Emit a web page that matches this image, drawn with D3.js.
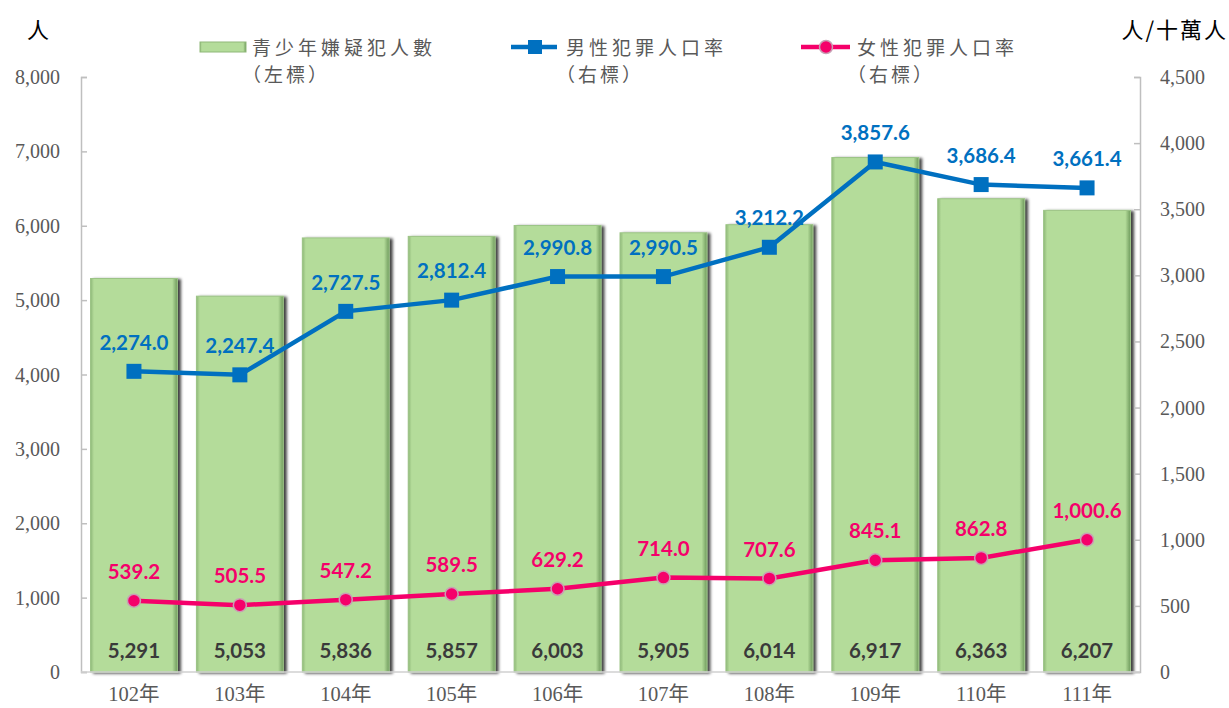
<!DOCTYPE html>
<html>
<head>
<meta charset="utf-8">
<script src="https://cdn.jsdelivr.net/npm/d3@7"></script>
<style>
  body { margin: 0; background: #fff; }
  svg { display: block; }
</style>
</head>
<body>
<div id="canvas"></div>
<script>
// data
let years = ["102年", "103年", "104年", "105年", "106年", "107年", "108年", "109年", "110年", "111年"];
let suspects = [5291, 5053, 5836, 5857, 6003, 5905, 6014, 6917, 6363, 6207];
let maleRate = [2274.0, 2247.4, 2727.5, 2812.4, 2990.8, 2990.5, 3212.2, 3857.6, 3686.4, 3661.4];
let femaleRate = [539.2, 505.5, 547.2, 589.5, 629.2, 714.0, 707.6, 845.1, 862.8, 1000.6];
let leftTicks = [0, 1000, 2000, 3000, 4000, 5000, 6000, 7000, 8000];
let rightTicks = [0, 500, 1000, 1500, 2000, 2500, 3000, 3500, 4000, 4500];

let width = 1229;
let height = 708;
let plotLeft = 81, plotRight = 1140, plotTop = 77, plotBottom = 672;

const blue = "#0070c0";
const pink = "#f5006a";
const barFill = "#b4dc9a";
const axisGray = "#595959";
const serif = "'Liberation Serif', 'Noto Sans CJK TC', serif";
const cjk = "'Noto Sans CJK TC', sans-serif";
const labelFont = "Lato, 'Open Sans', sans-serif";

let svg = d3.select("#canvas").append("svg")
    .attr("width", width)
    .attr("height", height);

let defs = svg.append("defs");
let shadow = defs.append("filter").attr("id", "shadow")
    .attr("x", "-10%").attr("y", "-10%").attr("width", "130%").attr("height", "130%");
shadow.append("feDropShadow")
    .attr("dx", 3).attr("dy", 1).attr("stdDeviation", 1.5)
    .attr("flood-color", "#000").attr("flood-opacity", 0.75);

let barGrad = defs.append("linearGradient").attr("id", "barGrad")
    .attr("x1", 0).attr("x2", 1).attr("y1", 0).attr("y2", 0);
barGrad.append("stop").attr("offset", "0%").attr("stop-color", "#8fb878");
barGrad.append("stop").attr("offset", "4%").attr("stop-color", barFill);
barGrad.append("stop").attr("offset", "94%").attr("stop-color", barFill);
barGrad.append("stop").attr("offset", "100%").attr("stop-color", "#6f9a5c");

const x = d3.scaleBand()
    .domain(years)
    .range([plotLeft, plotRight])
    .paddingInner(0.18)
    .paddingOuter(0.09);

const yLeft = d3.scaleLinear().domain([0, 8000]).range([plotBottom, plotTop]);
const yRight = d3.scaleLinear().domain([0, 4500]).range([plotBottom, plotTop]);

// bars
svg.append("g").selectAll("rect")
    .data(suspects)
    .join("rect")
    .attr("x", (d, i) => x(years[i]))
    .attr("y", d => yLeft(d))
    .attr("width", x.bandwidth())
    .attr("height", d => yLeft(0) - yLeft(d))
    .attr("fill", "url(#barGrad)")
    .attr("stroke", "#9cc486")
    .attr("stroke-width", 1)
    .attr("filter", "url(#shadow)");

// axes
let axisL = svg.append("g")
    .attr("transform", `translate(${plotLeft},0)`)
    .call(d3.axisRight(yLeft).tickValues(leftTicks).tickSize(6).tickFormat(""));
let axisR = svg.append("g")
    .attr("transform", `translate(${plotRight},0)`)
    .call(d3.axisLeft(yRight).tickValues(rightTicks).tickSize(6).tickFormat(""));
[axisL, axisR].forEach(a => {
    a.select(".domain").attr("stroke", "#bfbfbf").attr("stroke-width", 1.5);
    a.selectAll(".tick line").attr("stroke", "#bfbfbf").attr("stroke-width", 1.5);
});
svg.append("line")
    .attr("x1", plotLeft).attr("x2", plotRight)
    .attr("y1", plotBottom).attr("y2", plotBottom)
    .attr("stroke", "#d0d0d0").attr("stroke-width", 1.5);

svg.append("g").selectAll("text")
    .data(leftTicks)
    .join("text")
    .attr("x", 60)
    .attr("y", d => yLeft(d))
    .attr("dy", "0.35em")
    .attr("text-anchor", "end")
    .attr("font-family", serif)
    .attr("font-size", 20)
    .attr("fill", axisGray)
    .text(d => d3.format(",")(d));

svg.append("g").selectAll("text")
    .data(rightTicks)
    .join("text")
    .attr("x", 1160)
    .attr("y", d => yRight(d))
    .attr("dy", "0.35em")
    .attr("text-anchor", "start")
    .attr("font-family", serif)
    .attr("font-size", 20)
    .attr("fill", axisGray)
    .text(d => d3.format(",")(d));

svg.append("g").selectAll("text")
    .data(years)
    .join("text")
    .attr("x", d => x(d) + x.bandwidth() / 2)
    .attr("y", 701)
    .attr("text-anchor", "middle")
    .attr("font-family", serif)
    .attr("font-size", 20.5)
    .attr("fill", axisGray)
    .text(d => d);

// unit labels
svg.append("text").attr("x", 38).attr("y", 38).attr("text-anchor", "middle")
    .attr("font-family", cjk).attr("font-size", 22).attr("fill", "#000").text("人");
svg.append("text").attr("x", 1228).attr("y", 38).attr("text-anchor", "end")
    .attr("font-family", cjk).attr("font-size", 22).attr("letter-spacing", 2)
    .attr("fill", "#000").text("人/十萬人");

// lines
const cx = i => x(years[i]) + x.bandwidth() / 2;
let line = d3.line().x((d, i) => cx(i));

svg.append("path")
    .datum(maleRate)
    .attr("d", line.y(d => yRight(d)))
    .attr("fill", "none")
    .attr("stroke", blue)
    .attr("stroke-width", 4.5);

svg.append("path")
    .datum(femaleRate)
    .attr("d", line.y(d => yRight(d)))
    .attr("fill", "none")
    .attr("stroke", pink)
    .attr("stroke-width", 4.5);

svg.append("g").selectAll("rect")
    .data(maleRate)
    .join("rect")
    .attr("x", (d, i) => cx(i) - 7.5)
    .attr("y", d => yRight(d) - 7.5)
    .attr("width", 15)
    .attr("height", 15)
    .attr("fill", blue);

svg.append("g").selectAll("circle")
    .data(femaleRate)
    .join("circle")
    .attr("cx", (d, i) => cx(i))
    .attr("cy", d => yRight(d))
    .attr("r", 6.5)
    .attr("fill", pink)
    .attr("stroke", "#c8a0b4")
    .attr("stroke-width", 1.5);

// data labels
const fmt1 = d3.format(",.1f");
svg.append("g").selectAll("text")
    .data(maleRate)
    .join("text")
    .attr("x", (d, i) => cx(i))
    .attr("y", d => yRight(d) - 29)
    .attr("dy", "0.35em")
    .attr("text-anchor", "middle")
    .attr("font-family", labelFont)
    .attr("font-weight", "bold")
    .attr("font-size", 20.5)
    .attr("fill", blue)
    .text(d => fmt1(d));

svg.append("g").selectAll("text")
    .data(femaleRate)
    .join("text")
    .attr("x", (d, i) => cx(i))
    .attr("y", d => yRight(d) - 29)
    .attr("dy", "0.35em")
    .attr("text-anchor", "middle")
    .attr("font-family", labelFont)
    .attr("font-weight", "bold")
    .attr("font-size", 20.5)
    .attr("fill", pink)
    .text(d => fmt1(d));

svg.append("g").selectAll("text")
    .data(suspects)
    .join("text")
    .attr("x", (d, i) => cx(i))
    .attr("y", 651)
    .attr("dy", "0.35em")
    .attr("text-anchor", "middle")
    .attr("font-family", labelFont)
    .attr("font-weight", "bold")
    .attr("font-size", 20.5)
    .attr("fill", "#3a3a3a")
    .text(d => d3.format(",")(d));

// legend
let legend = svg.append("g");
legend.append("rect")
    .attr("x", 200).attr("y", 42).attr("width", 46).attr("height", 10)
    .attr("fill", "url(#barGrad)").attr("stroke", "#8fb878");

legend.append("line").attr("x1", 511).attr("x2", 557).attr("y1", 47).attr("y2", 47)
    .attr("stroke", blue).attr("stroke-width", 4.5);
legend.append("rect").attr("x", 528).attr("y", 40).attr("width", 14).attr("height", 14).attr("fill", blue);

legend.append("line").attr("x1", 801).attr("x2", 850).attr("y1", 47).attr("y2", 47)
    .attr("stroke", pink).attr("stroke-width", 4.5);
legend.append("circle").attr("cx", 826).attr("cy", 47).attr("r", 6.5)
    .attr("fill", pink).attr("stroke", "#c8a0b4").attr("stroke-width", 1.5);

let legendItems = [
    { x: 252, t1: "青少年嫌疑犯人數", t2: "（左標）" },
    { x: 566, t1: "男性犯罪人口率", t2: "（右標）" },
    { x: 857, t1: "女性犯罪人口率", t2: "（右標）" }
];
legendItems.forEach(it => {
    legend.append("text").attr("x", it.x).attr("y", 55)
        .attr("font-family", cjk).attr("font-size", 19).attr("letter-spacing", 4)
        .attr("fill", axisGray).text(it.t1);
    legend.append("text").attr("x", it.x - 10).attr("y", 82)
        .attr("font-family", cjk).attr("font-size", 19).attr("letter-spacing", 3)
        .attr("fill", axisGray).text(it.t2);
});
</script>
</body>
</html>
